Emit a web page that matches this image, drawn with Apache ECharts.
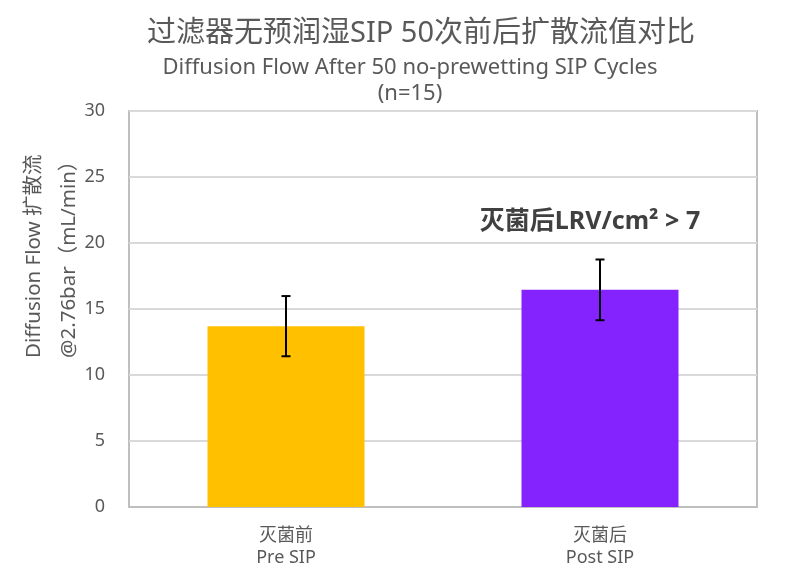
<!DOCTYPE html>
<html>
<head>
<meta charset="utf-8">
<script src="https://cdn.jsdelivr.net/npm/echarts@6/dist/echarts.min.js"></script>
<style>
html,body{margin:0;padding:0;background:#fff;}
#main{width:785px;height:582px;}
</style>
</head>
<body>
<div id="main"></div>
<script>
var categories = ['灭菌前\nPre SIP', '灭菌后\nPost SIP'];
var meanValues = [13.7, 16.45];
var errorValues = [2.28, 2.3];
var barColors = ['#FFC000', '#8523FF'];
var titleText = '过滤器无预润湿SIP 50次前后扩散流值对比';
var subtitleText = 'Diffusion Flow After 50 no-prewetting SIP Cycles\n(n=15)';
var yNameLine1 = 'Diffusion Flow 扩散流';
var yNameLine2 = '@2.76bar（mL/min）';
var annotationText = '灭菌后LRV/cm² > 7';

var FONT = '"Noto Sans", "Noto Sans CJK SC", sans-serif';
var chart = echarts.init(document.getElementById('main'));

var errData = categories.map(function (c, i) {
  return [i, meanValues[i] - errorValues[i], meanValues[i] + errorValues[i]];
});

chart.setOption({
  animation: false,
  backgroundColor: '#fff',
  title: [{
    text: titleText,
    left: 416, top: 14, textAlign: 'center',
    textStyle: {fontFamily: FONT, fontSize: 29, fontWeight: 'normal', color: '#595959'}
  }, {
    text: subtitleText,
    left: 405, top: 50, textAlign: 'center',
    textStyle: {fontFamily: FONT, fontSize: 22, fontWeight: 'normal', color: '#595959', lineHeight: 26, align: 'center'}
  }],
  grid: {left: 129, right: 28, top: 111, bottom: 75, show: true, borderColor: '#bfbfbf', borderWidth: 2},
  xAxis: {
    type: 'category',
    data: categories,
    axisLine: {show: true, lineStyle: {color: '#bfbfbf', width: 2}},
    axisTick: {show: false},
    axisLabel: {fontFamily: FONT, fontSize: 18, color: '#595959', lineHeight: 22, margin: 18}
  },
  yAxis: {
    type: 'value', min: 0, max: 30, interval: 5,
    axisLine: {show: false},
    axisTick: {show: false},
    splitLine: {lineStyle: {color: '#d9d9d9', width: 2}},
    axisLabel: {fontFamily: FONT, fontSize: 18, color: '#595959', margin: 24}
  },
  graphic: [{
    type: 'text', x: 34, y: 358, rotation: Math.PI / 2,
    style: {text: yNameLine1, font: '20.5px ' + FONT, fill: '#595959', textAlign: 'left', textVerticalAlign: 'middle'}
  }, {
    type: 'text', x: 69, y: 358, rotation: Math.PI / 2,
    style: {text: yNameLine2, font: '20.5px ' + FONT, fill: '#595959', textAlign: 'left', textVerticalAlign: 'middle'}
  }, {
    type: 'text', x: 590, y: 222,
    style: {text: annotationText, font: 'bold 25px ' + FONT, fill: '#404040', textAlign: 'center', textVerticalAlign: 'middle'}
  }],
  series: [{
    type: 'bar',
    data: meanValues.map(function (v, i) { return {value: v, itemStyle: {color: barColors[i]}}; }),
    barWidth: '50%'
  }, {
    type: 'custom',
    data: errData,
    z: 10,
    renderItem: function (params, api) {
      var x = api.value(0);
      var lo = api.coord([x, api.value(1)]);
      var hi = api.coord([x, api.value(2)]);
      var cap = 4.5;
      var st = {stroke: '#000', lineWidth: 2};
      return {type: 'group', children: [
        {type: 'line', shape: {x1: hi[0], y1: hi[1], x2: lo[0], y2: lo[1]}, style: st},
        {type: 'line', shape: {x1: hi[0] - cap, y1: hi[1], x2: hi[0] + cap, y2: hi[1]}, style: st},
        {type: 'line', shape: {x1: lo[0] - cap, y1: lo[1], x2: lo[0] + cap, y2: lo[1]}, style: st}
      ]};
    }
  }]
});
</script>
</body>
</html>
